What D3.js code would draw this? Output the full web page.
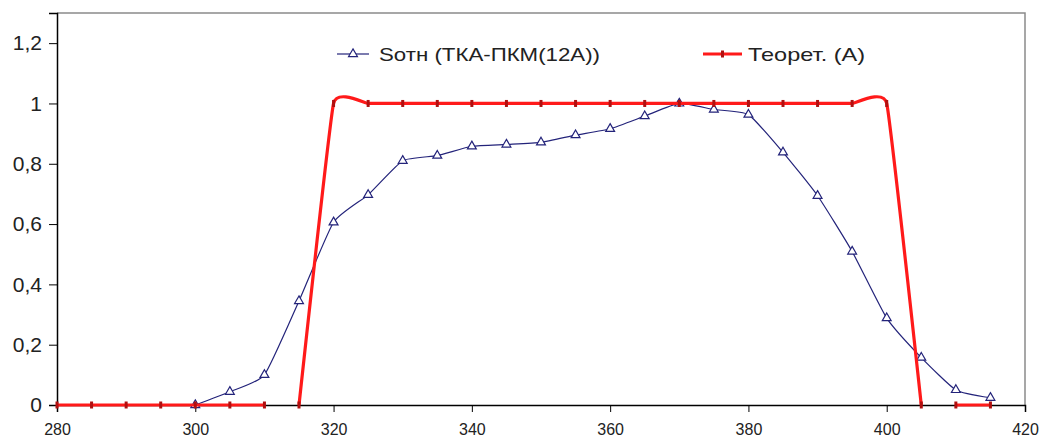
<!DOCTYPE html>
<html>
<head>
<meta charset="utf-8">
<style>
  body { margin: 0; background: #fff; }
  text { font-family: "Liberation Sans", Arial, sans-serif; }
</style>
</head>
<body>
<svg width="1044" height="441"></svg>
<script src="https://d3js.org/d3.v7.min.js"></script>
<script>

// Measured series: Sотн (ТКА-ПКМ(12А))
var measX = [300, 305, 310, 315, 320, 325, 330, 335, 340, 345, 350, 355, 360,
             365, 370, 375, 380, 385, 390, 395, 400, 405, 410, 415];
var measY = [0, 0.044, 0.10, 0.345, 0.606, 0.697, 0.81, 0.827, 0.858, 0.864, 0.871, 0.895, 0.916,
             0.958, 1.0, 0.98, 0.963, 0.838, 0.694, 0.509, 0.288, 0.157, 0.05, 0.024];

// Theoretical series: Теорет. (А)  (null = empty cell, line breaks)
var theoX = [280, 285, 290, 295, 300, 305, 310, 312.5, 315, 320, 325, 330, 335, 340, 345, 350,
             355, 360, 365, 370, 375, 380, 385, 390, 395, 400, 405, 407.5, 410, 415];
var theoY = [0, 0, 0, 0, 0, 0, 0, null, 0, 1, 1, 1, 1, 1, 1, 1,
             1, 1, 1, 1, 1, 1, 1, 1, 1, 1, 0, null, 0, 0];

var xTicks = [280, 300, 320, 340, 360, 380, 400, 420];
var yTicks = [0, 0.2, 0.4, 0.6, 0.8, 1, 1.2];
var yTickLabels = ["0", "0,2", "0,4", "0,6", "0,8", "1", "1,2"];

var seriesNames = ["Sотн (ТКА-ПКМ(12А))", "Теорет. (А)"];

var svg = d3.select("svg"),
    margin = {top: 13, right: 19, bottom: 36, left: 57},
    width = +svg.attr("width") - margin.left - margin.right,
    height = +svg.attr("height") - margin.top - margin.bottom,
    g = svg.append("g").attr("transform", "translate(" + margin.left + "," + margin.top + ")");

var x = d3.scaleLinear().domain([280, 420]).range([0, width]);
var y = d3.scaleLinear().domain([0, 1.3]).range([height, 0]);

var blue = "#23237a", red = "#ff1a1a", redMark = "#b01010";

// plot frame (top / right)
g.append("path")
    .attr("d", "M0,0H" + width + "V" + height)
    .attr("fill", "none")
    .attr("stroke", "#8a8a8a")
    .attr("stroke-width", 1.5);

// axes
var xAxis = g.append("g")
    .attr("transform", "translate(0," + height + ")")
    .call(d3.axisBottom(x).tickValues(xTicks).tickSize(7).tickPadding(12).tickFormat(d3.format("d")));
xAxis.selectAll("text").attr("font-size", 16).attr("fill", "#222");

var yAxis = g.append("g")
    .call(d3.axisLeft(y).tickValues(yTicks).tickSize(8).tickPadding(7)
      .tickFormat(function(d, i) { return yTickLabels[i]; }));
yAxis.selectAll("text").attr("font-size", 21).attr("fill", "#222");

g.selectAll(".domain").attr("stroke", "#000").attr("stroke-width", 1.5);
g.selectAll(".tick line").attr("stroke", "#000");

var measData = measX.map(function(d, i) { return {x: d, y: measY[i]}; });
var theoData = theoX.map(function(d, i) { return {x: d, y: theoY[i]}; });

function makeLine(tension) {
  return d3.line()
      .defined(function(d) { return d.y !== null; })
      .x(function(d) { return x(d.x); })
      .y(function(d) { return y(d.y); })
      .curve(d3.curveCardinal.tension(tension));
}

// measured line
g.append("path")
    .datum(measData)
    .attr("fill", "none")
    .attr("stroke", blue)
    .attr("stroke-width", 1.2)
    .attr("d", makeLine(0.5));

var tri = d3.symbol().type(d3.symbolTriangle).size(34);

g.selectAll(".mtri")
  .data(measData)
  .enter().append("path")
    .attr("class", "mtri")
    .attr("transform", function(d) { return "translate(" + x(d.x) + "," + y(d.y) + ")"; })
    .attr("d", tri)
    .attr("fill", "#fff")
    .attr("stroke", blue)
    .attr("stroke-width", 1.2);

// theoretical line
g.append("path")
    .datum(theoData)
    .attr("fill", "none")
    .attr("stroke", red)
    .attr("stroke-width", 3.2)
    .attr("d", makeLine(0.7));

g.selectAll(".tmark")
  .data(theoData.filter(function(d) { return d.y !== null; }))
  .enter().append("rect")
    .attr("class", "tmark")
    .attr("x", function(d) { return x(d.x) - 1.5; })
    .attr("y", function(d) { return y(d.y) - 3.5; })
    .attr("width", 3)
    .attr("height", 7)
    .attr("fill", redMark);

// legend
var legend = svg.append("g");
var lg1 = legend.append("g").attr("transform", "translate(337,54)");
lg1.append("line").attr("x1", 0).attr("x2", 32).attr("stroke", blue).attr("stroke-width", 1.2);
lg1.append("path").attr("transform", "translate(16,0)").attr("d", tri)
    .attr("fill", "#fff").attr("stroke", blue).attr("stroke-width", 1.2);
lg1.append("text").attr("x", 42).attr("y", 7).attr("font-size", 19).attr("fill", "#222")
    .attr("textLength", 221).attr("lengthAdjust", "spacingAndGlyphs")
    .text(seriesNames[0]);

var lg2 = legend.append("g").attr("transform", "translate(703,54)");
lg2.append("line").attr("x1", 0).attr("x2", 39).attr("stroke", red).attr("stroke-width", 3);
lg2.append("rect").attr("x", 18).attr("y", -3.5).attr("width", 3).attr("height", 7).attr("fill", redMark);
lg2.append("text").attr("x", 45).attr("y", 7).attr("font-size", 19).attr("fill", "#222")
    .attr("textLength", 117).attr("lengthAdjust", "spacingAndGlyphs")
    .text(seriesNames[1]);

</script>
</body>
</html>
